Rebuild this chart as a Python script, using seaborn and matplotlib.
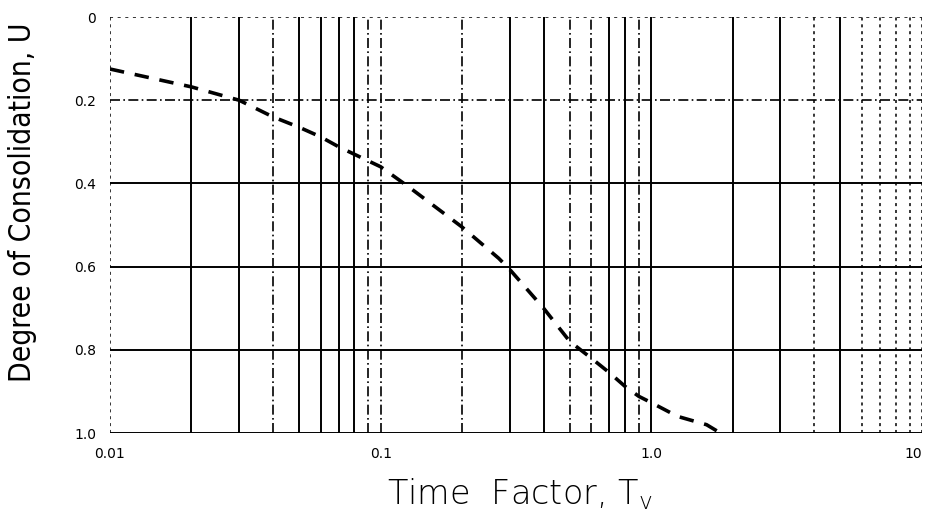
import matplotlib
matplotlib.use("Agg")
import matplotlib.pyplot as plt
import seaborn as sns
import pandas as pd

# Consolidation curve: time factor Tv vs degree of consolidation U
tv = [0.01, 0.02, 0.03, 0.04, 0.05, 0.06, 0.07, 0.08, 0.1, 0.128, 0.2,
      0.273, 0.3, 0.4, 0.5, 0.6, 0.7, 0.8, 0.9, 1.0, 1.25, 1.6, 1.8]
u = [0.125, 0.168, 0.2, 0.24, 0.265, 0.288, 0.312, 0.33, 0.36, 0.41, 0.505,
     0.58, 0.607, 0.70, 0.78, 0.82, 0.855, 0.888, 0.912, 0.927, 0.96, 0.98, 1.0]

x_ticks = [0.01, 0.1, 1.0, 10]
x_tick_labels = ["0.01", "0.1", "1.0", "10"]
y_ticks = [0, 0.2, 0.4, 0.6, 0.8, 1.0]
y_tick_labels = ["0", "0.2", "0.4", "0.6", "0.8", "1.0"]

# log-paper rulings between decades
solid_v = [0.02, 0.03, 0.05, 0.06, 0.07, 0.08, 0.3, 0.4, 0.7, 0.8, 1.0, 2, 3, 5]
dashed_v = [0.04, 0.09, 0.1, 0.2, 0.5, 0.6, 0.9]
dotted_v = [0.01, 4, 6, 7, 8, 9, 10]
solid_h = [0.4, 0.6, 0.8, 1.0]
dashdot_h = [0.2]
dotted_h = [0.0]

sns.set_theme(style="white")
plt.rcParams["font.family"] = ["DejaVu Sans"]

fig = plt.figure(figsize=(9.28, 5.25), dpi=100)
ax = fig.add_axes([0.1185, 0.1752, 0.875, 0.7924])

df = pd.DataFrame({"Tv": tv, "U": u})

for v in solid_v:
    ax.axvline(v, color="black", lw=1.4, zorder=1)
for v in dashed_v:
    ax.axvline(v, color="black", lw=1.2, ls=(0, (6, 2, 1, 2)), zorder=1)
for v in dotted_v:
    ax.axvline(v, color="black", lw=1.1, ls=(0, (2, 2.5)), zorder=1)
for h in solid_h:
    ax.axhline(h, color="black", lw=1.4, zorder=1)
for h in dashdot_h:
    ax.axhline(h, color="black", lw=1.2, ls=(0, (6, 2, 1, 2)), zorder=1)
for h in dotted_h:
    ax.axhline(h, color="black", lw=1.1, ls=(0, (2, 3)), zorder=1)

sns.lineplot(data=df, x="Tv", y="U", ax=ax, color="black", lw=2.6,
             zorder=3)
ax.lines[-1].set_linestyle((0, (4, 3)))

ax.set_xscale("log")
ax.set_xlim(0.01, 10)
ax.set_ylim(1.0, 0.0)
for s in ax.spines.values():
    s.set_visible(False)

ax.set_xticks(x_ticks)
ax.set_xticklabels(x_tick_labels, fontsize=10)
ax.set_xticks([], minor=True)
ax.set_yticks(y_ticks)
ax.set_yticklabels(y_tick_labels, fontsize=10)
ax.tick_params(axis="both", length=0, pad=10, colors="black")
ax.get_xticklabels()[-1].set_horizontalalignment("right")

ax.set_xlabel("Time  Factor, T$_\\mathregular{v}$", fontsize=24,
              color="black", fontweight="light")
ax.xaxis.set_label_coords(0.505, -0.103)
ax.set_ylabel("Degree of Consolidation, U", fontsize=21.5, color="black",
              fontstretch="condensed", fontweight="light")
ax.yaxis.set_label_coords(-0.09, 0.555)

fig.savefig("out.png", dpi=100, facecolor="white")
